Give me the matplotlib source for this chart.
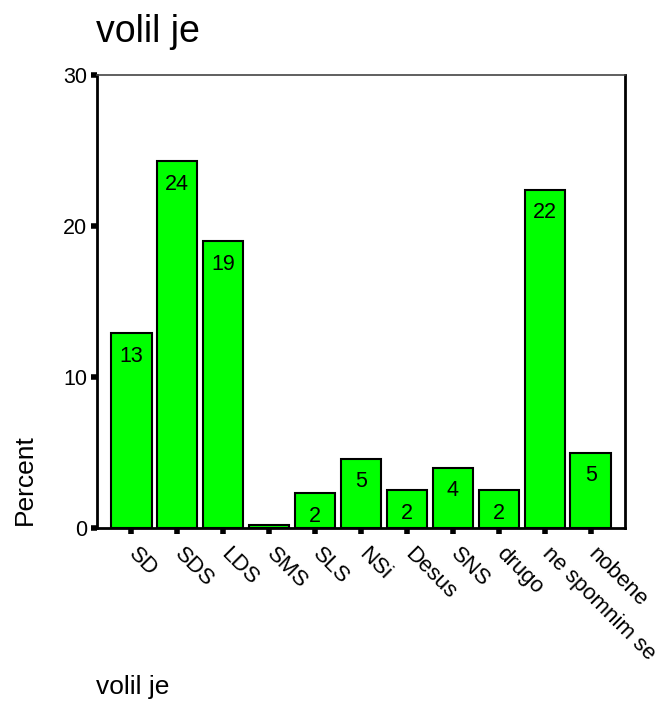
import matplotlib.pyplot as plt
from matplotlib.transforms import ScaledTranslation

plt.rcParams['font.family'] = ['Liberation Sans', 'DejaVu Sans']

# podatki
categories = ['SD', 'SDS', 'LDS', 'SMS', 'SLS', 'NSi', 'Desus', 'SNS', 'drugo',
              'ne spomnim se', 'nobene']
percent = [12.9, 24.3, 19.0, 0.2, 2.3, 4.6, 2.5, 4.0, 2.5, 22.4, 5.0]
bar_labels = ['13', '24', '19', '', '2', '5', '2', '4', '2', '22', '5']

fig = plt.figure(figsize=(6.66, 7.26), dpi=100)
ax = fig.add_axes([97 / 666, 1 - 528 / 726, 528 / 666, 453 / 726])

x = range(len(categories))
bars = ax.bar(x, percent, width=0.89, color='#00ff00', edgecolor='black', linewidth=1.5)

for b, lab in zip(bars, bar_labels):
    if lab:
        ax.annotate(lab, (b.get_x() + b.get_width() / 2, b.get_height()),
                    xytext=(0, -9), textcoords='offset points',
                    ha='center', va='top', fontsize=15.5)

ax.set_xlim(-0.74, len(categories) - 0.26)
ax.set_ylim(0, 30)
ax.set_yticks([0, 10, 20, 30])
ax.set_xticks(list(x))
ax.set_xticklabels(categories, rotation=-45, ha='left', va='top',
                   rotation_mode='anchor', fontsize=16)
ax.tick_params(axis='y', labelsize=15.5, length=4, width=4, direction='out', pad=3)
ax.tick_params(axis='x', length=4, width=4, direction='out', pad=7)

# etikete malo v desno
shift = ScaledTranslation(8 / 100, 0, fig.dpi_scale_trans)
for t in ax.get_xticklabels():
    t.set_transform(t.get_transform() + shift)

for s in ['left', 'bottom']:
    ax.spines[s].set_linewidth(2)
ax.spines['top'].set_linewidth(1.2)
ax.spines['top'].set_color('#444444')
ax.spines['right'].set_linewidth(2)

fig.text(96 / 666, 1 - 42 / 726, 'volil je', fontsize=27, ha='left', va='baseline')
fig.text(25 / 666, 1 - 480 / 726, 'Percent', fontsize=19, rotation=90,
         ha='center', va='center')
fig.text(96 / 666, 1 - 694 / 726, 'volil je', fontsize=19, ha='left', va='baseline')

fig.savefig('out.png', dpi=100)
